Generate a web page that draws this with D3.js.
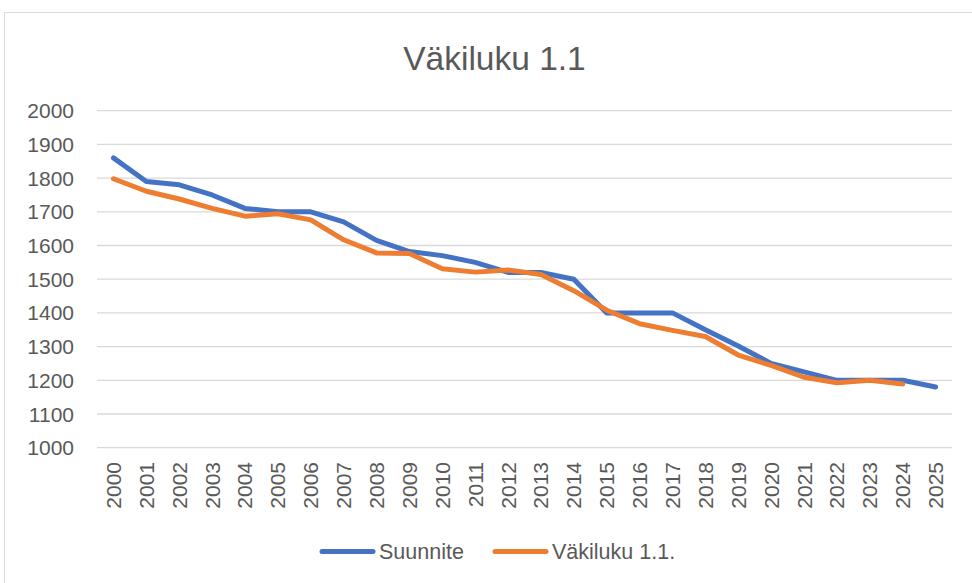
<!DOCTYPE html>
<html>
<head>
<meta charset="utf-8">
<script src="https://cdn.jsdelivr.net/npm/d3@7"></script>
<style>
  body { margin: 0; background: #fff; }
  text { font-family: "Liberation Sans", Arial, sans-serif; fill: #595959; }
</style>
</head>
<body>
<div id="chart"></div>
<script>
// years on the x axis
const years = ["2000", "2001", "2002", "2003", "2004", "2005", "2006", "2007", "2008", "2009",
    "2010", "2011", "2012", "2013", "2014", "2015", "2016", "2017", "2018", "2019",
    "2020", "2021", "2022", "2023", "2024", "2025"];

// Suunnite (plan)
const suunnite = [1860, 1790, 1780, 1750, 1710, 1700, 1700, 1670, 1615, 1582,
    1570, 1550, 1520, 1520, 1500, 1400, 1400, 1400, 1350, 1302,
    1250, 1225, 1200, 1200, 1200, 1180];

// Väkiluku 1.1. (actual, ends 2024)
const vakiluku = [1798, 1761, 1738, 1710, 1687, 1694, 1676, 1617, 1578, 1576,
    1531, 1521, 1527, 1514, 1466, 1408, 1368, 1348, 1330, 1275,
    1244, 1209, 1193, 1200, 1189];

const yTicks = [1000, 1100, 1200, 1300, 1400, 1500, 1600, 1700, 1800, 1900, 2000];

const W = 972, H = 583;
const plot = { left: 97, right: 952, top: 110.7, bottom: 447.7 };

const svg = d3.select("#chart")
    .append("svg")
    .attr("width", W)
    .attr("height", H);

// chart frame (only top and left edges visible in the crop)
svg.append("path")
    .attr("d", "M4.5,583 L4.5,12.5 L972,12.5")
    .attr("fill", "none")
    .attr("stroke", "#d9d9d9")
    .attr("stroke-width", 1);

// title
svg.append("text")
    .attr("x", 494.5)
    .attr("y", 70)
    .attr("text-anchor", "middle")
    .style("font-size", "33.5px")
    .text("Väkiluku 1.1");

const x = d3.scaleBand()
    .domain(years)
    .range([plot.left, plot.right]);

const y = d3.scaleLinear()
    .domain([1000, 2000])
    .range([plot.bottom, plot.top]);

// gridlines
svg.append("g")
    .selectAll("line")
    .data(yTicks)
    .enter()
    .append("line")
    .attr("x1", plot.left)
    .attr("x2", plot.right)
    .attr("y1", d => y(d))
    .attr("y2", d => y(d))
    .attr("stroke", "#d9d9d9")
    .attr("stroke-width", 1.3);

// y labels
svg.append("g")
    .selectAll("text")
    .data(yTicks)
    .enter()
    .append("text")
    .attr("x", 74)
    .attr("y", d => y(d) + 7.5)
    .attr("text-anchor", "end")
    .style("font-size", "21px")
    .text(d => d);

// x labels, rotated
svg.append("g")
    .selectAll("text")
    .data(years)
    .enter()
    .append("text")
    .attr("transform", d => "translate(" + (x(d) + x.bandwidth() / 2 + 7.5) + "," + 462 + ") rotate(-90)")
    .attr("text-anchor", "end")
    .style("font-size", "21px")
    .text(d => d);

const line = d3.line()
    .x((d, i) => x(years[i]) + x.bandwidth() / 2)
    .y(d => y(d));

svg.append("path")
    .datum(suunnite)
    .attr("d", line)
    .attr("fill", "none")
    .attr("stroke", "#4472c4")
    .attr("stroke-width", 5)
    .attr("stroke-linejoin", "round")
    .attr("stroke-linecap", "round");

svg.append("path")
    .datum(vakiluku)
    .attr("d", line)
    .attr("fill", "none")
    .attr("stroke", "#ed7d31")
    .attr("stroke-width", 5)
    .attr("stroke-linejoin", "round")
    .attr("stroke-linecap", "round");

// legend
const legendData = [
    { label: "Suunnite", color: "#4472c4", x: 320 },
    { label: "Väkiluku 1.1.", color: "#ed7d31", x: 493 }
];

const legend = svg.append("g");

legend.selectAll("line")
    .data(legendData)
    .enter()
    .append("line")
    .attr("x1", d => d.x + 2)
    .attr("x2", d => d.x + 53)
    .attr("y1", 551.5)
    .attr("y2", 551.5)
    .attr("stroke", d => d.color)
    .attr("stroke-width", 5)
    .attr("stroke-linecap", "round");

legend.selectAll("text")
    .data(legendData)
    .enter()
    .append("text")
    .attr("x", d => d.x + 59)
    .attr("y", 559)
    .style("font-size", "21.5px")
    .text(d => d.label);
</script>
</body>
</html>
